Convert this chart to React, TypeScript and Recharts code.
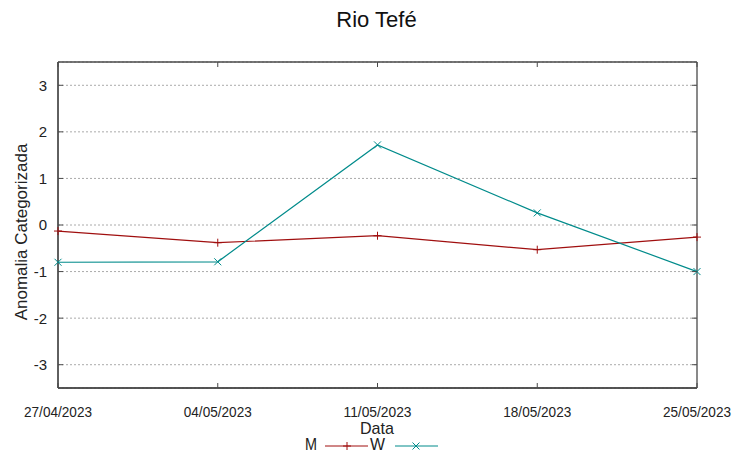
import React from 'react';
import { LineChart, Line, XAxis, YAxis, CartesianGrid } from 'recharts';

const dates = ['27/04/2023', '04/05/2023', '11/05/2023', '18/05/2023', '25/05/2023'];
const seriesM = [-0.13, -0.38, -0.23, -0.53, -0.26];
const seriesW = [-0.8, -0.79, 1.72, 0.26, -1.0];
const yTicks = [-3, -2, -1, 0, 1, 2, 3];
const xTicks = [0, 1, 2, 3, 4];
const yDomain = [-3.5, 3.5];
const xDomain = [0, 4];

const data = dates.map((d, i) => ({ i, date: d, M: seriesM[i], W: seriesW[i] }));

const W_ = 753;
const H_ = 458;
const MARGIN = { top: 62, right: 56, bottom: 0, left: 0 };
const Y_AXIS_W = 58;
const PLOT_TOP = MARGIN.top;
const PLOT_RIGHT = W_ - MARGIN.right;

const RED = '#a00f0f';
const TEAL = '#008b8b';
const AXIS = '#4a4a4a';
const SANS = "'Liberation Sans', Arial, sans-serif";

const PlusDot = (props: any) => {
  const { cx, cy } = props;
  if (cx == null || cy == null) return null;
  const s = 4;
  return (
    <g>
      <line x1={cx - s} x2={cx + s} y1={cy} y2={cy} stroke={RED} strokeWidth={1} />
      <line x1={cx} x2={cx} y1={cy - s} y2={cy + s} stroke={RED} strokeWidth={1} />
    </g>
  );
};

const CrossDot = (props: any) => {
  const { cx, cy } = props;
  if (cx == null || cy == null) return null;
  const s = 3.5;
  return (
    <g>
      <line x1={cx - s} x2={cx + s} y1={cy - s} y2={cy + s} stroke={TEAL} strokeWidth={1} />
      <line x1={cx - s} x2={cx + s} y1={cy + s} y2={cy - s} stroke={TEAL} strokeWidth={1} />
    </g>
  );
};

const BottomTick = (props: any) => {
  const { x, y, payload } = props;
  return (
    <g>
      <line x1={x} x2={x} y1={y} y2={y - 5} stroke={AXIS} strokeWidth={1} />
      <line x1={x} x2={x} y1={PLOT_TOP} y2={PLOT_TOP + 5} stroke={AXIS} strokeWidth={1} />
      <text
        x={x}
        y={y + 29}
        textAnchor="middle"
        fontFamily={SANS}
        fontSize={15}
        fill="#222"
        textLength={68}
        lengthAdjust="spacingAndGlyphs"
      >
        {dates[payload.value]}
      </text>
    </g>
  );
};

const LeftTick = (props: any) => {
  const { x, y, payload } = props;
  return (
    <g>
      <line x1={x} x2={x + 5} y1={y} y2={y} stroke={AXIS} strokeWidth={1} />
      <line x1={PLOT_RIGHT} x2={PLOT_RIGHT - 5} y1={y} y2={y} stroke={AXIS} strokeWidth={1} />
      <text x={x - 11} y={y} dy="0.36em" textAnchor="end" fontFamily={SANS} fontSize={15} fill="#222">
        {payload.value}
      </text>
    </g>
  );
};

const LegendBox = () => (
  <svg width={753} height={43} style={{ position: 'absolute', left: 0, top: 415, display: 'block' }}>
    <text x={377} y={19} textAnchor="middle" fontFamily={SANS} fontSize={17} fill="#222" textLength={34} lengthAdjust="spacingAndGlyphs">
      Data
    </text>
    <text x={317} y={35} textAnchor="end" fontFamily={SANS} fontSize={17} fill="#222" textLength={12} lengthAdjust="spacingAndGlyphs">
      M
    </text>
    <line x1={325} x2={368} y1={31} y2={31} stroke={RED} strokeWidth={1} />
    <PlusDot cx={347} cy={31} />
    <text x={370} y={35} textAnchor="start" fontFamily={SANS} fontSize={17} fill="#222" textLength={15} lengthAdjust="spacingAndGlyphs">
      W
    </text>
    <line x1={395} x2={438} y1={31} y2={31} stroke={TEAL} strokeWidth={1} />
    <CrossDot cx={416} cy={31} />
  </svg>
);

const YLabel = () => (
  <text
    x={21}
    y={232}
    transform="rotate(-90, 21, 232)"
    textAnchor="middle"
    dy="0.36em"
    fontFamily={SANS}
    fontSize={17}
    fill="#222"
  >
    Anomalia Categorizada
  </text>
);

const borderH = ({ offset }: any) => [offset.top, offset.top + offset.height];
const borderV = ({ offset }: any) => [offset.left, offset.left + offset.width];

export default function App() {
  return (
    <div style={{ position: 'absolute', left: 0, top: 0, width: W_, height: H_, background: '#fff' }}>
      <div
        style={{
          position: 'absolute',
          left: 0,
          top: 5,
          width: W_,
          textAlign: 'center',
          fontFamily: SANS,
          fontSize: 22,
          color: '#111',
          lineHeight: '30px',
        }}
      >
        Rio Tefé
      </div>
      <LineChart width={W_} height={H_} data={data} margin={MARGIN}>
        <CartesianGrid horizontal vertical={false} stroke="#aaa" strokeDasharray="2 2" />
        <CartesianGrid
          stroke={AXIS}
          strokeWidth={1.3}
          horizontalCoordinatesGenerator={borderH}
          verticalCoordinatesGenerator={borderV}
        />
        <XAxis
          dataKey="i"
          type="number"
          domain={xDomain}
          ticks={xTicks}
          height={70}
          tickSize={0}
          tickMargin={0}
          tickLine={false}
          axisLine={{ stroke: AXIS, strokeWidth: 1.3 }}
          tick={<BottomTick />}
          interval={0}
        />
        <YAxis
          type="number"
          domain={yDomain}
          ticks={yTicks}
          width={Y_AXIS_W}
          tickSize={0}
          tickMargin={0}
          tickLine={false}
          axisLine={{ stroke: AXIS, strokeWidth: 1.3 }}
          tick={<LeftTick />}
          interval={0}
          label={<YLabel />}
        />
        <Line
          type="linear"
          dataKey="M"
          stroke={RED}
          strokeWidth={1.2}
          dot={<PlusDot />}
          activeDot={false}
          isAnimationActive={false}
        />
        <Line
          type="linear"
          dataKey="W"
          stroke={TEAL}
          strokeWidth={1.2}
          dot={<CrossDot />}
          activeDot={false}
          isAnimationActive={false}
        />
      </LineChart>
      <LegendBox />
    </div>
  );
}
